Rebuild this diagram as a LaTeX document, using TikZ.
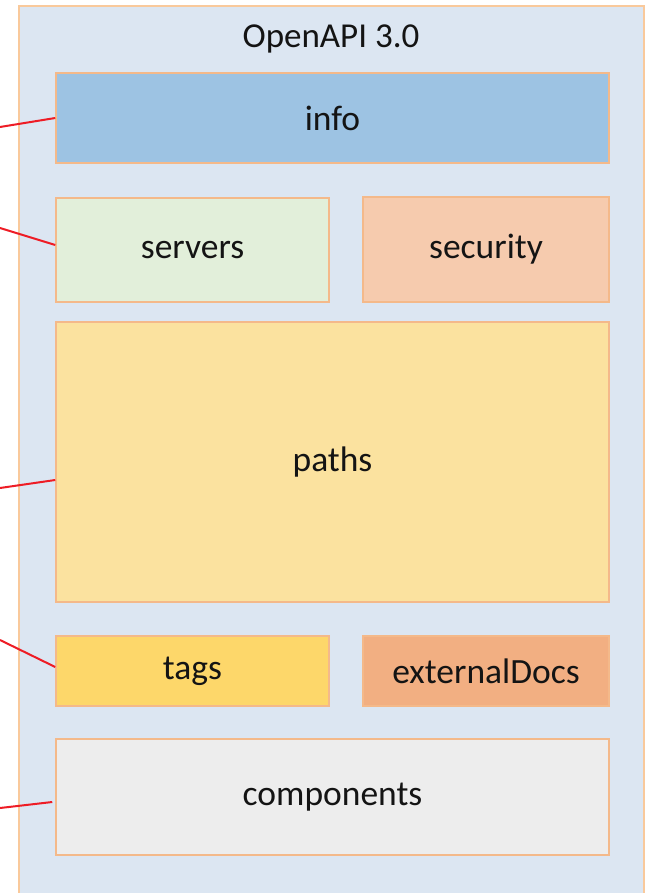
\documentclass[tikz,border=0pt]{standalone}
\usepackage{fontspec}
\setmainfont{Carlito}
\definecolor{outerfill}{HTML}{DCE6F2}
\definecolor{outerline}{HTML}{F9C99B}
\definecolor{boxline}{HTML}{F4B98A}
\definecolor{infofill}{HTML}{9DC3E3}
\definecolor{serverfill}{HTML}{E2EFDA}
\definecolor{securityfill}{HTML}{F6CBAE}
\definecolor{pathsfill}{HTML}{FBE29F}
\definecolor{tagsfill}{HTML}{FDD76A}
\definecolor{extfill}{HTML}{F2AF82}
\definecolor{compfill}{HTML}{EDEDED}
\definecolor{linkred}{HTML}{EE1C25}
\tikzset{
  part/.style={draw=boxline, line width=1.5pt, inner sep=0pt, font=\fontsize{35.5}{38}\selectfont, text=black!92},
  link/.style={draw=linkred, line width=2pt},
}
\begin{document}
\begin{tikzpicture}[x=1pt,y=1pt]
\useasboundingbox (0,0) rectangle (650,-893);
\clip (0,0) rectangle (650,-893);
\fill[white] (0,0) rectangle (650,-893);
\draw[fill=outerfill, draw=outerline, line width=1.5pt] (19,-6) rectangle (644,-910);
\node[font=\fontsize{35}{38}\selectfont, text=black!92] (title) at (331,-39) {OpenAPI 3.0};
\node[part, fill=infofill, minimum width=553, minimum height=90] (info) at (332.5,-118) {info};
\node[part, fill=serverfill, minimum width=273, minimum height=104] (servers) at (192.5,-250) {servers};
\node[part, fill=securityfill, minimum width=246, minimum height=105] (security) at (486,-249.5) {security};
\node[part, fill=pathsfill, minimum width=553, minimum height=280] (paths) at (332.5,-462) {paths};
\node[part, fill=tagsfill, minimum width=273, minimum height=70] (tags) at (192.5,-671) {tags};
\node[part, fill=extfill, minimum width=246, minimum height=70] (ext) at (486,-671) {externalDocs};
\node[part, fill=compfill, minimum width=553, minimum height=116] (comp) at (332.5,-797) {components};
\coordinate (l1) at (0,-127);
\coordinate (l2) at (0,-228);
\coordinate (l3) at (0,-488);
\coordinate (l4) at (0,-640);
\coordinate (l5) at (0,-808);
\draw[link] (l1) -- (info.west);
\draw[link] (l2) -- ([yshift=5pt]servers.west);
\draw[link] (l3) -- ([yshift=-18pt]paths.west);
\draw[link] (l4) -- ([yshift=4pt]tags.west);
\draw[link] (l5) -- ([xshift=-3pt,yshift=-5pt]comp.west);
\end{tikzpicture}
\end{document}
